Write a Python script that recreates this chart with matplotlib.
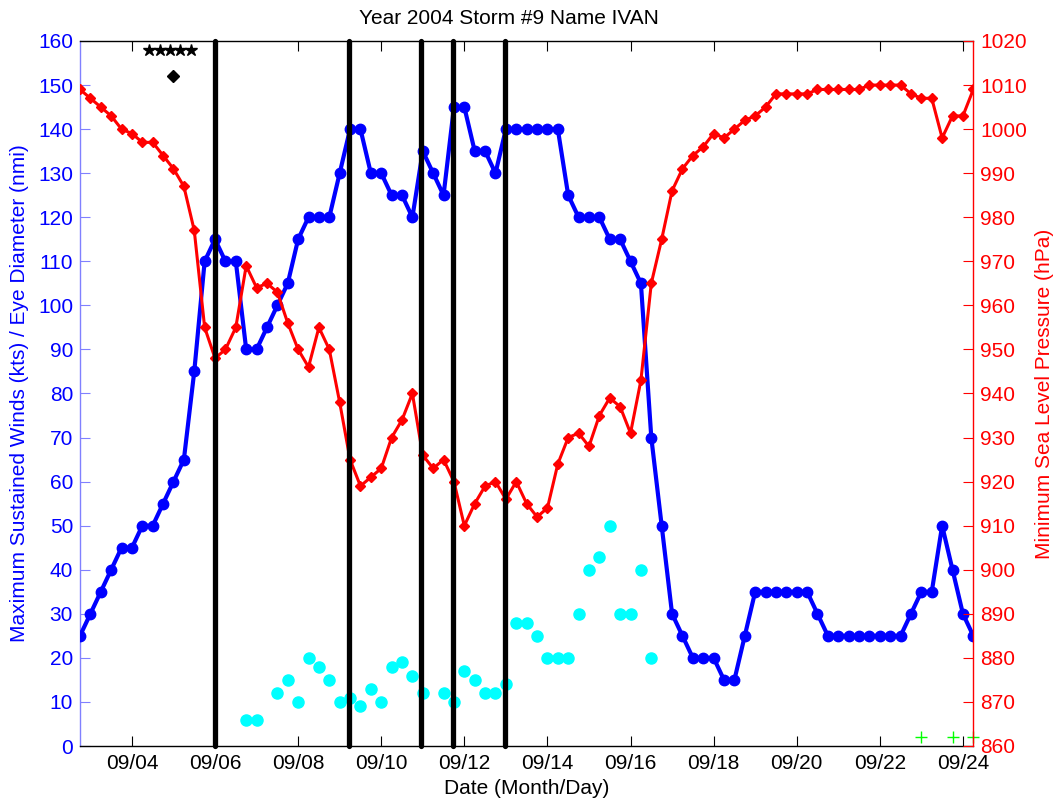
import matplotlib
matplotlib.use("Agg")
import matplotlib.pyplot as plt
import matplotlib.dates as mdates
import pandas as pd

plt.rcParams['font.family'] = ['Liberation Sans', 'DejaVu Sans']

# 6-hourly best-track fixes, starting 2004-09-02 18Z
track_start = "2004-09-02 18:00"

wind_kts = [25, 30, 35, 40, 45, 45, 50, 50, 55, 60, 65, 85, 110, 115, 110, 110,
            90, 90, 95, 100, 105, 115, 120, 120, 120, 130, 140, 140, 130, 130,
            125, 125, 120, 135, 130, 125, 145, 145, 135, 135, 130, 140, 140, 140,
            140, 140, 140, 125, 120, 120, 120, 115, 115, 110, 105, 70, 50, 30,
            25, 20, 20, 20, 15, 15, 25, 35, 35, 35, 35, 35, 35, 30, 25, 25, 25,
            25, 25, 25, 25, 25, 30, 35, 35, 50, 40, 30, 25]

pressure_hpa = [1009, 1007, 1005, 1003, 1000, 999, 997, 997, 994, 991, 987, 977,
                955, 948, 950, 955, 969, 964, 965, 963, 956, 950, 946, 955, 950,
                938, 925, 919, 921, 923, 930, 934, 940, 926, 923, 925, 920, 910,
                915, 919, 920, 916, 920, 915, 912, 914, 924, 930, 931, 928, 935,
                939, 937, 931, 943, 965, 975, 986, 991, 994, 996, 999, 998, 1000,
                1002, 1003, 1005, 1008, 1008, 1008, 1008, 1009, 1009, 1009, 1009,
                1009, 1010, 1010, 1010, 1010, 1008, 1007, 1007, 998, 1003, 1003,
                1009]

# Eye diameter reports (fix index into the 6-hourly series, diameter in nmi)
eye_fix = [16, 17, 19, 20, 21, 22, 23, 24, 25, 26, 27, 28, 29, 30, 31, 32, 33,
           35, 36, 37, 38, 39, 40, 41, 42, 43, 44, 45, 46, 47, 48, 49, 50, 51,
           52, 53, 54, 55]
eye_nmi = [6, 6, 12, 15, 10, 20, 18, 15, 10, 11, 9, 13, 10, 18, 19, 16, 12,
           12, 10, 17, 15, 12, 12, 14, 28, 28, 25, 20, 20, 20, 30, 40, 43, 50,
           30, 30, 40, 20]

# Rapid-intensification flags and genesis marker
star_times = ["2004-09-04 10:00", "2004-09-04 16:00", "2004-09-04 22:00",
              "2004-09-05 04:00", "2004-09-05 10:00"]
star_level = 158
genesis_time = "2004-09-05 00:00"
genesis_level = 152

# Landfall / event times
event_times = ["2004-09-06 00:00", "2004-09-09 05:30", "2004-09-10 23:00",
               "2004-09-11 17:30", "2004-09-12 23:30"]

# Extratropical / remnant markers
plus_fix = [81, 84, 86]
plus_level = 2

x_ticks = ["2004-09-04", "2004-09-06", "2004-09-08", "2004-09-10", "2004-09-12",
           "2004-09-14", "2004-09-16", "2004-09-18", "2004-09-20", "2004-09-22",
           "2004-09-24"]

times = pd.date_range(track_start, periods=len(wind_kts), freq="6h")
eye_times = times[eye_fix]
plus_times = times[plus_fix]

fig = plt.figure(figsize=(10.61, 8.05), dpi=100)
ax = fig.add_axes([80 / 1061, 1 - 746 / 805, 893.3 / 1061, 705 / 805])
ax2 = ax.twinx()

BLUE = "#0000ff"
RED = "#ff0000"
SPINE_BLUE = "#8080ff"
FS = 15

ax.plot(times, wind_kts, color=BLUE, lw=3.0, marker="o", ms=7.5,
        mec=BLUE, mfc=BLUE, zorder=3)
ax.plot(eye_times, eye_nmi, ls="none", marker="o", ms=8, color="#00ffff",
        mec="#00ffff", zorder=2)
ax.plot(pd.to_datetime(star_times), [star_level] * len(star_times), ls="none",
        marker="*", ms=9, color="black", zorder=4)
ax.plot([pd.Timestamp(genesis_time)], [genesis_level], ls="none", marker="D",
        ms=6, color="black", zorder=4)
ax.plot(plus_times, [plus_level] * len(plus_times), ls="none", marker="+",
        ms=8, mew=1.0, color="#00ff00", clip_on=False, zorder=4)

ax2.plot(times, pressure_hpa, color=RED, lw=2.2, marker="D", ms=5,
         mec=RED, mfc=RED, zorder=3)
for t in event_times:
    ax2.axvline(pd.Timestamp(t), color="black", lw=3.8,
                solid_capstyle="round", clip_on=False, zorder=5)

ax.set_xlim(pd.Timestamp(track_start), times[-1])
ax.set_ylim(0, 160)
ax2.set_ylim(860, 1020)
ax.set_yticks(range(0, 161, 10))
ax2.set_yticks(range(860, 1021, 10))
ax.set_xticks(pd.to_datetime(x_ticks))
ax.xaxis.set_major_formatter(mdates.DateFormatter("%m/%d"))

ax.tick_params(axis="x", which="both", direction="in", length=7, width=0.8,
               top=True, bottom=True, labelsize=FS, pad=6, colors="black")
ax.tick_params(axis="y", direction="in", length=7, width=0.8,
               color=SPINE_BLUE, labelcolor=BLUE, labelsize=FS, pad=5)
ax2.tick_params(axis="y", direction="in", length=7, width=0.8,
                color=RED, labelcolor=RED, labelsize=FS, pad=5)
ax2.tick_params(axis="x", which="both", bottom=False, top=False)

for s in ("top", "bottom"):
    ax.spines[s].set_color("black")
    ax.spines[s].set_linewidth(1.0)
    ax2.spines[s].set_visible(False)
ax.spines["left"].set_color(SPINE_BLUE)
ax.spines["right"].set_visible(False)
ax2.spines["left"].set_visible(False)
ax2.spines["right"].set_color(RED)
ax2.spines["right"].set_linewidth(1.0)
ax.spines["left"].set_linewidth(1.0)

ax.set_xlabel("Date (Month/Day)", fontsize=FS)
ax.xaxis.set_label_coords(0.5, -0.047)
ax.set_ylabel("Maximum Sustained Winds (kts) / Eye Diameter (nmi)",
              fontsize=FS, color=BLUE)
ax.yaxis.set_label_coords(-0.057, 0.5)
ax2.set_ylabel("Minimum Sea Level Pressure (hPa)", fontsize=FS, color=RED)
ax2.yaxis.set_label_coords(1.069, 0.5)

fig.text(509 / 1061, 1 - 19 / 805,
         "Year 2004 Storm #9 Name IVAN", ha="center", va="center", fontsize=FS)

fig.savefig("out.png", dpi=100)
